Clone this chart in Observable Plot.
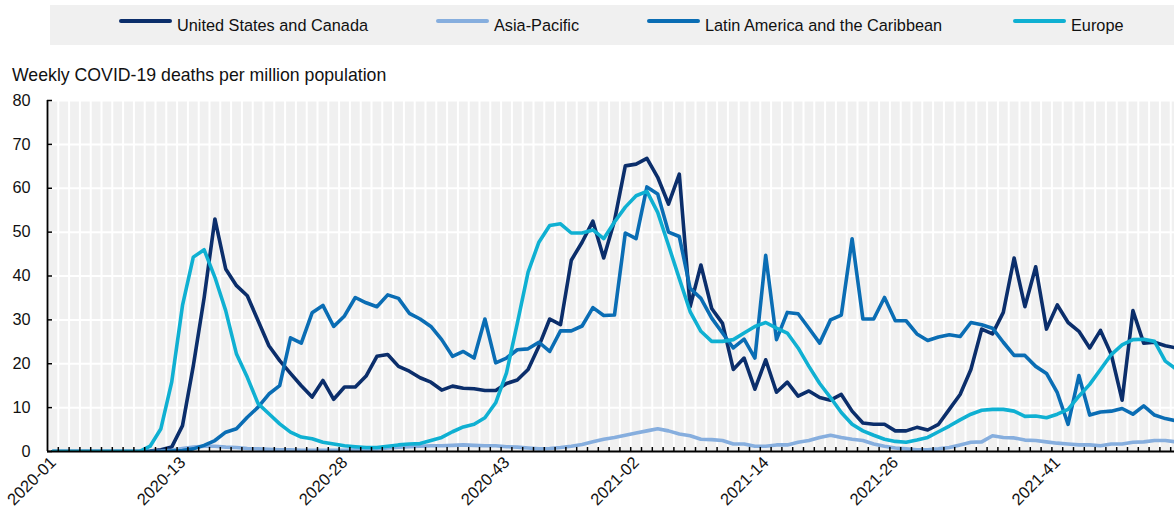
<!DOCTYPE html>
<html>
<head>
<meta charset="utf-8">
<script src="https://cdn.jsdelivr.net/npm/d3@7"></script>
<script src="https://cdn.jsdelivr.net/npm/@observablehq/plot@0.6"></script>
<style>
  html, body { margin: 0; padding: 0; background: #fff; overflow: hidden; }
  body { font-family: "Liberation Sans", Arial, sans-serif; color: #111; }
  #wrap { position: relative; width: 1174px; height: 510px; }
  #legendBox { position: absolute; left: 50px; top: 5px; width: 1124px; height: 40px; background: #f0f0f0; }
  .sw { position: absolute; top: 19px; height: 4px; width: 53px; border-radius: 2px; }
  .lt { position: absolute; top: 14px; font-size: 16.3px; line-height: 22px; white-space: nowrap; color: #111; }
  #title { position: absolute; left: 12px; top: 63px; font-size: 17.7px; line-height: 24px; white-space: nowrap; color: #111; }
  #chart { position: absolute; left: 0; top: 90px; }
</style>
</head>
<body>
<div id="wrap">
  <div id="legendBox"></div>
  <div id="title"></div>
  <div id="chart"></div>
</div>
<script>
// ---- Data ----
const years = [2020, 2021];
const weeksPerYear = [53, 52];
const weeks = [];
years.forEach((yr, k) => { for (let w = 1; w <= weeksPerYear[k]; w++) weeks.push(yr + "-" + String(w).padStart(2, "0")); });

const tickLabels = ["2020-01", "2020-13", "2020-28", "2020-43", "2021-02", "2021-14", "2021-26", "2021-41"];
const yTicks = [0, 10, 20, 30, 40, 50, 60, 70, 80];

const seriesNames = ["United States and Canada", "Asia-Pacific", "Latin America and the Caribbean", "Europe"];
const seriesColors = ["#0b2e6b", "#86aede", "#0a6db4", "#0fb0d2"];

const usCanada = [
  0, 0, 0, 0, 0, 0, 0, 0, 0, 0.1,
  0.4, 1.0, 5.9, 19.5, 35.0, 53.0, 41.6, 37.8, 35.5, 29.8,
  24.1, 20.7, 17.8, 15.0, 12.4, 16.2, 11.9, 14.7, 14.7, 17.2,
  21.7, 22.1, 19.4, 18.3, 16.8, 15.8, 14.0, 14.9, 14.4, 14.3,
  13.9, 13.9, 15.5, 16.3, 18.7, 24.0, 30.2, 28.9, 43.6, 47.7,
  52.5, 44.1, 52.6, 65.1, 65.5, 66.8, 62.5, 56.4, 63.2, 33.0,
  42.5, 32.6, 29.2, 18.7, 21.3, 14.2, 20.9, 13.5, 15.8, 12.6,
  13.8, 12.3, 11.7, 13.0, 9.2, 6.5, 6.2, 6.2, 4.7, 4.7,
  5.5, 4.9, 6.2, 9.6, 13.0, 18.7, 27.9, 26.8, 31.7, 44.1,
  33.0, 42.1, 27.9, 33.4, 29.4, 27.4, 23.6, 27.6, 22.1, 11.7,
  32.1, 24.7, 24.9, 24.1, 23.6
];
const asiaPacific = [
  0, 0, 0, 0, 0, 0, 0, 0, 0, 0,
  0.1, 0.3, 0.7, 1.0, 1.2, 1.2, 1.0, 0.9, 0.7, 0.6,
  0.5, 0.4, 0.4, 0.3, 0.3, 0.3, 0.3, 0.3, 0.4, 0.5,
  0.6, 0.8, 1.0, 1.1, 1.2, 1.3, 1.3, 1.4, 1.5, 1.4,
  1.3, 1.3, 1.1, 1.0, 0.8, 0.6, 0.7, 0.9, 1.2, 1.6,
  2.2, 2.8, 3.2, 3.7, 4.2, 4.7, 5.2, 4.7, 4.0, 3.6,
  2.8, 2.7, 2.5, 1.7, 1.7, 1.2, 1.2, 1.5, 1.5, 2.1,
  2.5, 3.2, 3.7, 3.2, 2.8, 2.5, 1.7, 1.2, 0.8, 0.6,
  0.4, 0.4, 0.6, 0.9, 1.5, 2.1, 2.2, 3.6, 3.2, 3.1,
  2.6, 2.5, 2.2, 1.9, 1.7, 1.5, 1.5, 1.3, 1.7, 1.7,
  2.1, 2.2, 2.5, 2.5, 2.2
];
const latinAmerica = [
  0, 0, 0, 0, 0, 0, 0, 0, 0, 0,
  0, 0.1, 0.2, 0.6, 1.4, 2.5, 4.4, 5.2, 7.8, 10.1,
  13.1, 15.0, 25.9, 24.7, 31.6, 33.3, 28.5, 30.9, 35.1, 33.9,
  33.0, 35.7, 34.9, 31.5, 30.2, 28.5, 25.5, 21.7, 22.8, 21.3,
  30.2, 20.2, 21.3, 23.2, 23.4, 24.9, 22.8, 27.5, 27.5, 28.6,
  32.8, 31.0, 31.1, 49.8, 48.5, 60.3, 58.7, 50.0, 49.0, 37.2,
  34.9, 30.4, 27.0, 23.6, 25.6, 21.3, 44.7, 25.5, 31.7, 31.4,
  28.1, 24.7, 30.0, 31.1, 48.5, 30.2, 30.2, 35.1, 29.8, 29.8,
  26.8, 25.3, 26.1, 26.6, 26.2, 29.4, 28.9, 28.1, 24.9, 21.9,
  21.9, 19.4, 17.8, 13.4, 6.2, 17.3, 8.3, 9.0, 9.2, 9.8,
  8.5, 10.4, 8.3, 7.5, 7.0
];
const europe = [
  0, 0, 0, 0, 0, 0, 0, 0, 0, 1.2,
  5.2, 15.8, 33.3, 44.3, 46.0, 39.7, 32.1, 22.2, 16.9, 10.9,
  8.6, 6.3, 4.4, 3.3, 2.9, 2.1, 1.7, 1.3, 1.1, 0.9,
  0.9, 1.2, 1.5, 1.7, 1.8, 2.5, 3.2, 4.5, 5.6, 6.2,
  7.7, 11.1, 17.9, 29.2, 40.9, 47.7, 51.5, 51.9, 49.8, 49.8,
  50.5, 48.5, 52.3, 55.7, 58.3, 59.3, 54.5, 47.0, 39.4, 31.9,
  27.4, 25.1, 25.1, 25.5, 27.0, 28.5, 29.4, 28.1, 27.0, 23.6,
  19.4, 15.5, 12.3, 8.9, 6.2, 4.7, 3.7, 2.8, 2.3, 2.1,
  2.6, 3.2, 4.5, 5.8, 7.2, 8.5, 9.4, 9.6, 9.6, 9.2,
  8.0, 8.1, 7.7, 8.5, 9.6, 12.6, 15.3, 18.7, 22.1, 24.3,
  25.5, 25.6, 25.1, 20.6, 18.8
];

// ---- Build table ----
const seriesValues = [usCanada, asiaPacific, latinAmerica, europe];
const rows = [];
seriesNames.forEach((name, s) => {
  seriesValues[s].forEach((v, i) => rows.push({series: name, i, week: weeks[i], value: v}));
});
const idx = weeks.map((w, i) => i);
const boundaries = idx.slice(0, -1).map(i => i + 0.5);
const tickIdx = tickLabels.map(t => weeks.indexOf(t));

// ---- Legend & title ----
const legendLeft = [119, 436, 647, 1013];
const wrap = document.getElementById("wrap");
seriesNames.forEach((name, s) => {
  const sw = document.createElement("div");
  sw.className = "sw";
  sw.style.left = legendLeft[s] + "px";
  sw.style.background = seriesColors[s];
  wrap.appendChild(sw);
  const t = document.createElement("div");
  t.className = "lt";
  t.style.left = (legendLeft[s] + 58) + "px";
  t.textContent = name;
  wrap.appendChild(t);
});
document.getElementById("title").textContent = "Weekly COVID-19 deaths per million population";

// ---- Chart ----
const W = 1174, H = 420, mL = 47, mT = 10, mB = 59, mR = 0;
const band = 10.8;
const chart = Plot.plot({
  width: W,
  height: H,
  marginLeft: mL,
  marginRight: mR,
  marginTop: mT,
  marginBottom: mB,
  style: {fontFamily: "'Liberation Sans', Arial, sans-serif", color: "#111", overflow: "visible"},
  x: {type: "linear", domain: [-0.5, weeks.length - 0.5], range: [mL, mL + band * weeks.length], axis: null},
  y: {domain: [0, 80], axis: null},
  color: {domain: seriesNames, range: seriesColors},
  marks: [
    Plot.frame({fill: "#f0f0f0", stroke: "none"}),
    Plot.ruleX(boundaries, {stroke: "#ffffff", strokeWidth: 2, clip: true}),
    Plot.ruleY(yTicks.slice(1), {stroke: "#ffffff", strokeWidth: 2}),
    Plot.lineY(rows, {x: "i", y: "value", z: "series", stroke: "series", strokeWidth: 3.6, strokeLinejoin: "round", clip: true}),
    // axes
    Plot.ruleY([0], {stroke: "#000", strokeWidth: 1.8}),
    Plot.tickX(boundaries, {x: d => d, stroke: "#000", strokeWidth: 1.5, insetTop: H - mT - mB - 4, clip: true}),
    Plot.ruleX([-0.5], {stroke: "#000", strokeWidth: 1.8}),
    Plot.tickY(yTicks, {y: d => d, stroke: "#000", strokeWidth: 1.5, insetRight: W - mL - mR - 5}),
    Plot.text(yTicks, {y: d => d, frameAnchor: "left", text: d => String(d), textAnchor: "end", dx: -17, fontSize: 16.3}),
    Plot.text(tickIdx, {x: d => d, frameAnchor: "bottom", text: d => weeks[d], rotate: -45, textAnchor: "end", dx: 4, dy: 12, fontSize: 16.5})
  ]
});
document.getElementById("chart").appendChild(chart);
</script>
</body>
</html>
